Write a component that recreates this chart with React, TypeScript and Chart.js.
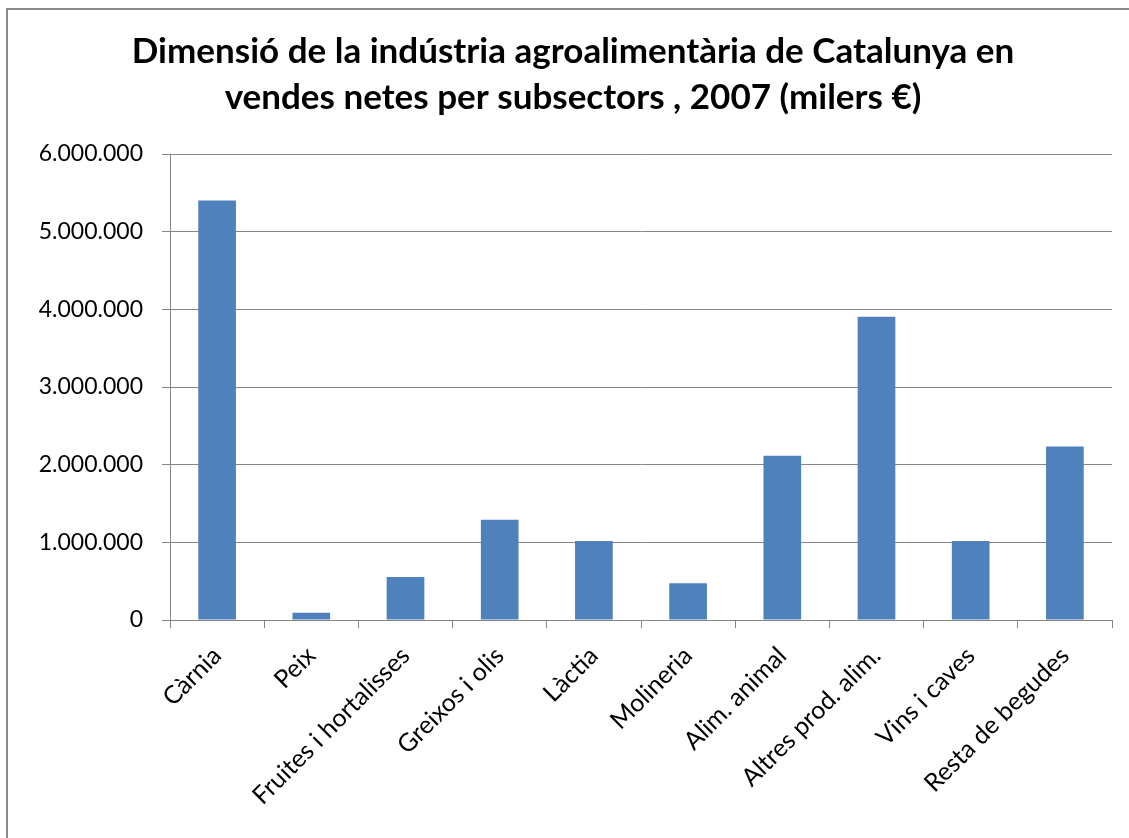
import React, { useEffect, useRef } from "react";
import { Chart, registerables } from "chart.js";

Chart.register(...registerables);

const titleLines = [
  "Dimensió de la indústria agroalimentària de Catalunya en",
  "vendes netes per subsectors , 2007 (milers €)",
];

const categories = [
  "Càrnia",
  "Peix",
  "Fruites i hortalisses",
  "Greixos i olis",
  "Làctia",
  "Molineria",
  "Alim. animal",
  "Altres prod. alim.",
  "Vins i caves",
  "Resta de begudes",
];

const sales = [5400000, 94000, 553000, 1291000, 1017000, 472000, 2115000, 3904000, 1017000, 2235000];

const yMin = 0;
const yMax = 6000000;
const yStep = 1000000;

const formatThousands = (v: number) =>
  String(Math.round(v)).replace(/\B(?=(\d{3})+(?!\d))/g, ".");

const CANVAS_W = 1146;
const CANVAS_H = 850;
const SIDE_PAD = 34;

const framePlugin = {
  id: "frame",
  beforeDraw(chart: any) {
    const ctx = chart.ctx;
    ctx.save();
    ctx.fillStyle = "#ffffff";
    ctx.fillRect(0, 0, chart.width, chart.height);
    ctx.strokeStyle = "#8a8a8a";
    ctx.lineWidth = 2;
    ctx.strokeRect(7, 9, chart.width + 20, chart.height + 20);
    ctx.restore();
  },
};

export default function App() {
  const ref = useRef<HTMLCanvasElement | null>(null);

  useEffect(() => {
    if (!ref.current) return;
    const chart = new Chart(ref.current, {
      type: "bar",
      data: {
        labels: categories,
        datasets: [
          {
            data: sales,
            backgroundColor: "#4F81BD",
            borderWidth: 0,
            barPercentage: 0.4,
            categoryPercentage: 1,
          },
        ],
      },
      options: {
        responsive: false,
        animation: false,
        devicePixelRatio: 1,
        layout: { padding: { left: SIDE_PAD, right: SIDE_PAD, top: 0, bottom: 0 } },
        plugins: {
          legend: { display: false },
          tooltip: { enabled: false },
          title: {
            display: true,
            text: titleLines,
            color: "#000000",
            font: { family: "Lato", size: 35, weight: "bold", lineHeight: 46 / 35 },
            padding: { top: 28.5, bottom: 33.5 },
          },
        },
        scales: {
          x: {
            offset: true,
            grid: {
              display: true,
              drawOnChartArea: false,
              drawTicks: true,
              tickLength: 8,
              offset: true,
              color: "#868686",
            },
            border: { display: true, color: "#868686", width: 1 },
            ticks: {
              color: "#000000",
              font: { family: "Lato", size: 25 },
              minRotation: 45,
              maxRotation: 45,
              autoSkip: false,
              padding: 13,
            },
            afterFit(scale: any) {
              scale.height = CANVAS_H - 620;
            },
          },
          y: {
            min: yMin,
            max: yMax,
            grid: { color: "#868686", tickLength: 8, drawTicks: true },
            border: { display: true, color: "#868686", width: 1 },
            ticks: {
              stepSize: yStep,
              color: "#000000",
              font: { family: "Lato", size: 23 },
              padding: 19,
              callback: (v: any) => formatThousands(Number(v)),
            },
            afterFit(scale: any) {
              scale.width = 170 - SIDE_PAD;
            },
          },
        },
      },
      plugins: [framePlugin],
    });
    return () => chart.destroy();
  }, []);

  return (
    <div
      style={{
        position: "absolute",
        left: 0,
        top: 0,
        width: 1129,
        height: 838,
        overflow: "hidden",
        background: "#ffffff",
      }}
    >
      <canvas
        ref={ref}
        width={CANVAS_W}
        height={CANVAS_H}
        style={{ display: "block", width: CANVAS_W, height: CANVAS_H }}
      />
    </div>
  );
}
